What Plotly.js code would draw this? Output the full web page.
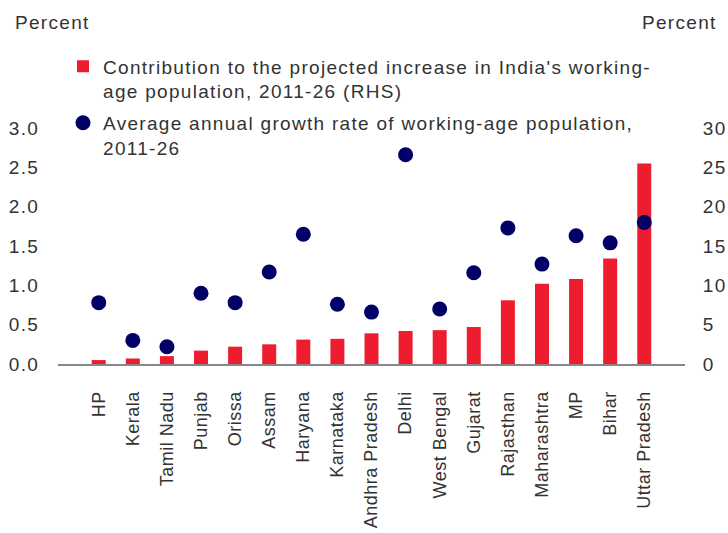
<!DOCTYPE html>
<html>
<head>
<meta charset="utf-8">
<script src="https://cdn.plot.ly/plotly-3.0.1.min.js"></script>
<style>html,body{margin:0;padding:0;background:#fff;}#chart{width:728px;height:533px;} svg text{letter-spacing:1.3px;} svg g.xtick text{letter-spacing:0.5px;}</style>
</head>
<body>
<div id="chart"></div>
<script>
const states = ["HP","Kerala","Tamil Nadu","Punjab","Orissa","Assam","Haryana","Karnataka","Andhra Pradesh","Delhi","West Bengal","Gujarat","Rajasthan","Maharashtra","MP","Bihar","Uttar Pradesh"];
const contribution = [0.5,0.7,1.0,1.7,2.2,2.5,3.1,3.2,3.9,4.2,4.3,4.7,8.1,10.2,10.8,13.4,25.5];
const growthRate = [0.78,0.30,0.22,0.90,0.78,1.17,1.65,0.76,0.66,2.66,0.70,1.16,1.73,1.27,1.63,1.54,1.80];
const leftTicks = [0,0.5,1,1.5,2,2.5,3];
const leftTickText = ["0.0","0.5","1.0","1.5","2.0","2.5","3.0"];
const rightTicks = [0,5,10,15,20,25,30];

const font = {family: "Liberation Sans, Arial, sans-serif", size: 18, color: "#333"};

const traces = [
  {
    type: "bar", x: states, y: contribution, yaxis: "y", legendgroup: "a",
    name: "Contribution to the projected increase in India's working-<br>age population, 2011-26 (RHS)",
    marker: {color: "#ED1C2E"}, width: 0.41
  },
  {
    type: "scatter", mode: "markers", x: states, y: growthRate, yaxis: "y2", legendgroup: "b",
    name: "Average annual growth rate of working-age population,<br>2011-26",
    marker: {color: "#000066", size: 15}
  }
];

const layout = {
  width: 728, height: 533,
  margin: {l: 58, r: 43, t: 128, b: 169},
  paper_bgcolor: "#fff", plot_bgcolor: "#fff",
  font: font,
  showlegend: true,
  legend: {x: 0.008, y: 1.341, xanchor: "left", yanchor: "top", valign: "top",
           traceorder: "grouped", tracegroupgap: 4,
           bgcolor: "rgba(0,0,0,0)", font: {size: 19, color: "#333"}},
  xaxis: {
    type: "category", tickangle: -90, showgrid: false, zeroline: false,
    showline: true, linecolor: "#888", linewidth: 2,
    ticks: "outside", ticklen: 18, tickcolor: "rgba(0,0,0,0)",
    tickfont: {size: 18, color: "#333"}
  },
  yaxis: {
    range: [0, 30], tickvals: rightTicks, side: "right",
    showgrid: false, zeroline: false, showline: false,
    ticks: "outside", ticklen: 13, tickcolor: "rgba(0,0,0,0)",
    tickfont: {size: 19, color: "#333"}
  },
  yaxis2: {
    range: [0, 3], tickvals: leftTicks, ticktext: leftTickText, overlaying: "y", side: "left",
    showgrid: false, zeroline: false, showline: false,
    ticks: "outside", ticklen: 14, tickcolor: "rgba(0,0,0,0)",
    tickfont: {size: 19, color: "#333"}
  },
  annotations: [
    {text: "Percent", xref: "paper", yref: "paper", x: -0.072, y: 1.448, xanchor: "left", yanchor: "middle", showarrow: false, font: {size: 19, color: "#333"}},
    {text: "Percent", xref: "paper", yref: "paper", x: 1.054, y: 1.448, xanchor: "right", yanchor: "middle", showarrow: false, font: {size: 19, color: "#333"}}
  ]
};

Plotly.newPlot("chart", traces, layout, {displayModeBar: false, staticPlot: true});
</script>
</body>
</html>
